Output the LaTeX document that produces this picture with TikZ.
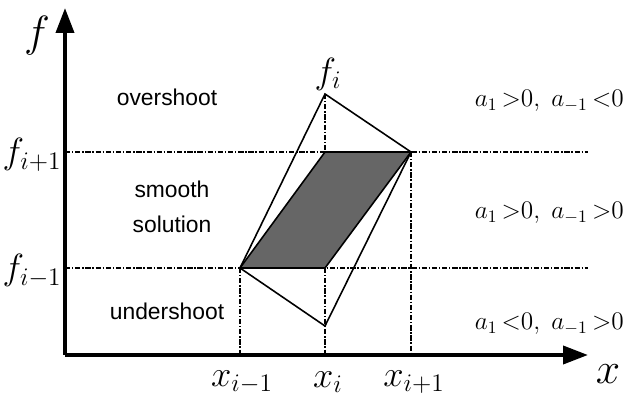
\documentclass[tikz,border=0pt]{standalone}
\usepackage{fontspec}
\setsansfont{Liberation Sans}
\usetikzlibrary{arrows.meta}
\begin{document}
\begin{tikzpicture}[x=0.02cm, y=-0.02cm, >={Triangle[length=0.5cm,width=0.36cm]},
    axisline/.style={line width=2.2pt},
    guide/.style={line width=0.7pt, dash pattern=on 3pt off 1pt on 0.8pt off 1pt},
    edge/.style={line width=0.9pt},
    region/.style={font=\sffamily\fontsize{13}{20}\selectfont, align=center},
    cond/.style={font=\fontsize{14}{16}\selectfont, anchor=east, inner sep=0pt},
    mlabel/.style={font=\fontsize{20}{24}\selectfont}]
  \useasboundingbox (0,0) rectangle (628,401);
  % axes end points
  \coordinate (o) at (65,355);
  \coordinate (ytip) at (65,8);
  \coordinate (xtip) at (588,355);
  % grid points
  \coordinate (lo) at (240,268);
  \coordinate (mlo) at (325,268);
  \coordinate (mhi) at (325,152);
  \coordinate (hi) at (411,152);
  \coordinate (top) at (325,94);
  \coordinate (bot) at (325,326);
  \coordinate (fhiL) at (65,152);
  \coordinate (fhiR) at (588,152);
  \coordinate (floL) at (65,268);
  \coordinate (floR) at (588,268);
  \coordinate (xloB) at (240,355);
  \coordinate (xmB) at (325,355);
  \coordinate (xhiB) at (411,355);
  % smooth band
  \fill[black!60] (lo) -- (mhi) -- (hi) -- (mlo) -- cycle;
  % dashed guides
  \draw[guide] (fhiL) -- (fhiR);
  \draw[guide] (floL) -- (floR);
  \draw[guide] (lo) -- (xloB);
  \draw[guide] (top) -- (mhi);
  \draw[guide] (mlo) -- (xmB);
  \draw[guide] (hi) -- (xhiB);
  % parallelogram and outer quadrilateral
  \draw[edge] (lo) -- (mhi) -- (hi) -- (mlo) -- cycle;
  \draw[edge] (lo) -- (top) -- (hi) -- (bot) -- cycle;
  % axes
  \draw[axisline,->] (o) -- (ytip);
  \draw[axisline,->] (o) -- (xtip);
  % axis labels
  \node[font=\fontsize{26}{30}\selectfont] (flab) at (37,36) {$f$};
  \node[font=\fontsize{30}{34}\selectfont] (xlab) at (608,374) {$x$};
  \node[mlabel] (fhi) at (32,155) {$f_{i+1}$};
  \node[mlabel] (flo) at (32,271) {$f_{i-1}$};
  \node[mlabel] (fi) at (328,74) {$f_i$};
  \node[mlabel] (xlo) at (242,382) {$x_{i-1}$};
  \node[mlabel] (xm) at (328,382) {$x_i$};
  \node[mlabel] (xhi) at (414,382) {$x_{i+1}$};
  % regions
  \node[region] (over) at (167,97) {overshoot};
  \node[region] (smooth) at (172,207) {smooth\\solution};
  \node[region] (under) at (167,311) {undershoot};
  % coefficient signs
  \node[cond] (c1) at (624,101) {$a_1\mkern3mu{>}0,\; a_{-1}\mkern3mu{<}0$};
  \node[cond] (c2) at (624,213) {$a_1\mkern3mu{>}0,\; a_{-1}\mkern3mu{>}0$};
  \node[cond] (c3) at (624,324) {$a_1\mkern3mu{<}0,\; a_{-1}\mkern3mu{>}0$};
\end{tikzpicture}
\end{document}
